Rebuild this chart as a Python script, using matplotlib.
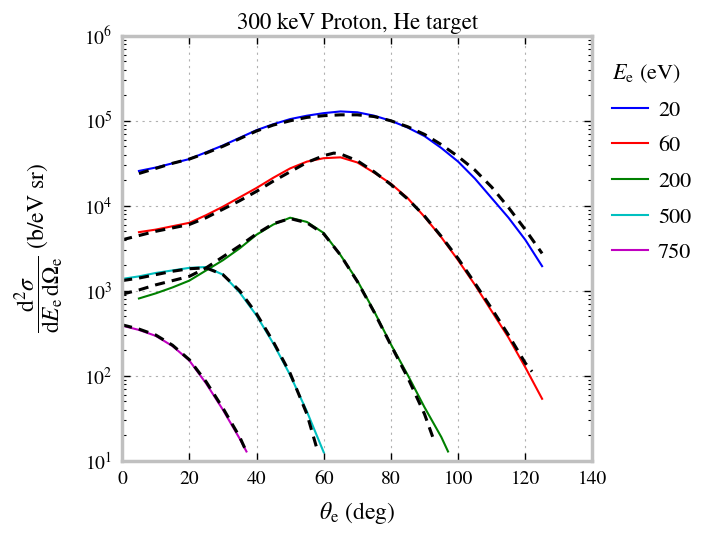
import matplotlib
matplotlib.use("Agg")
from matplotlib import pyplot as plt
from matplotlib.ticker import LogLocator, FixedLocator
import numpy as np

plt.rcParams['font.family'] = 'STIXGeneral'
plt.rcParams['mathtext.fontset'] = 'stix'
plt.rcParams['font.size'] = 14

energies = ['20', '60', '200', '500', '750']
colors = ['#0000ff', '#ff0000', '#008000', '#00c0c0', '#c000c0']

# solid curves (theta in deg, log10 of cross section)
th20 = [5, 10, 15, 20, 25, 30, 35, 40, 45, 50, 55, 60, 65, 70, 75, 80, 85, 90, 95, 100, 105, 110, 115, 120, 125]
lg20 = [4.41, 4.45, 4.50, 4.55, 4.63, 4.71, 4.80, 4.89, 4.96, 5.02, 5.06, 5.09, 5.11, 5.10, 5.06, 5.00, 4.92, 4.82, 4.68, 4.52, 4.32, 4.09, 3.86, 3.60, 3.29]
th60 = [5, 10, 15, 20, 25, 30, 35, 40, 45, 50, 55, 60, 65, 70, 75, 80, 85, 90, 95, 100, 105, 110, 115, 120, 125]
lg60 = [3.69, 3.72, 3.76, 3.80, 3.89, 3.99, 4.10, 4.21, 4.33, 4.44, 4.52, 4.56, 4.57, 4.51, 4.39, 4.26, 4.09, 3.87, 3.63, 3.36, 3.07, 2.76, 2.45, 2.10, 1.73]
th200 = [5, 10, 15, 20, 25, 30, 35, 40, 45, 50, 55, 60, 65, 70, 75, 80, 85, 90, 95, 97]
lg200 = [2.91, 2.97, 3.04, 3.12, 3.24, 3.36, 3.50, 3.66, 3.78, 3.86, 3.81, 3.68, 3.42, 3.12, 2.76, 2.37, 2.01, 1.63, 1.28, 1.11]
th500 = [0, 5, 10, 15, 20, 25, 30, 35, 40, 45, 50, 55, 60]
lg500 = [3.14, 3.17, 3.21, 3.24, 3.27, 3.28, 3.19, 2.98, 2.71, 2.38, 2.01, 1.58, 1.10]
th750 = [0, 5, 10, 15, 20, 25, 30, 35, 37]
lg750 = [2.59, 2.54, 2.47, 2.35, 2.18, 1.91, 1.60, 1.26, 1.11]

# dashed curves
dth20 = [5, 10, 15, 20, 25, 30, 35, 40, 45, 50, 55, 60, 65, 70, 75, 80, 85, 90, 95, 100, 105, 110, 115, 120, 125]
dlg20 = [4.38, 4.44, 4.50, 4.55, 4.62, 4.70, 4.79, 4.88, 4.95, 5.00, 5.04, 5.06, 5.07, 5.07, 5.05, 5.00, 4.93, 4.84, 4.72, 4.58, 4.42, 4.22, 3.98, 3.72, 3.44]
dth60 = [0, 5, 10, 15, 20, 25, 30, 35, 40, 45, 50, 55, 60, 63, 65, 70, 75, 80, 85, 90, 95, 100, 105, 110, 115, 120, 122]
dlg60 = [3.60, 3.65, 3.70, 3.74, 3.78, 3.86, 3.96, 4.06, 4.17, 4.29, 4.40, 4.51, 4.59, 4.62, 4.61, 4.53, 4.40, 4.25, 4.08, 3.88, 3.64, 3.38, 3.09, 2.79, 2.48, 2.15, 2.05]
dth200 = [0, 5, 10, 15, 20, 25, 30, 35, 40, 45, 50, 55, 60, 65, 70, 75, 80, 85, 90, 93]
dlg200 = [2.96, 3.01, 3.07, 3.12, 3.17, 3.27, 3.40, 3.53, 3.67, 3.79, 3.85, 3.80, 3.67, 3.42, 3.11, 2.75, 2.36, 1.98, 1.55, 1.22]
dth500 = [0, 5, 10, 15, 20, 25, 30, 35, 40, 45, 50, 55, 58]
dlg500 = [3.12, 3.15, 3.19, 3.23, 3.26, 3.27, 3.19, 3.00, 2.73, 2.40, 2.03, 1.55, 1.14]
dth750 = [0, 5, 10, 15, 20, 25, 30, 35, 36.5]
dlg750 = [2.60, 2.55, 2.48, 2.36, 2.19, 1.93, 1.62, 1.28, 1.15]

solid = [(th20, lg20), (th60, lg60), (th200, lg200), (th500, lg500), (th750, lg750)]
dashed = [(dth20, dlg20), (dth60, dlg60), (dth200, dlg200), (dth500, dlg500), (dth750, dlg750)]

fig = plt.figure(figsize=(7.02, 5.34), dpi=100)
ax = fig.add_axes([0.174, 0.137, 0.670, 0.796])

for (t, lg), c, e in zip(solid, colors, energies):
    ax.plot(t, 10 ** np.array(lg), color=c, lw=1.5, label=e)
for t, lg in dashed:
    ax.plot(t, 10 ** np.array(lg), color='black', lw=2.2, dashes=(3.3, 2.3))

ax.set_yscale('log')
ax.set_xlim(0, 140)
ax.set_ylim(10, 1e6)
ax.xaxis.set_major_locator(FixedLocator([0, 20, 40, 60, 80, 100, 120, 140]))
ax.yaxis.set_major_locator(LogLocator(base=10, numticks=10))
ax.yaxis.set_minor_locator(LogLocator(base=10, subs=np.arange(2, 10), numticks=10))

ax.grid(True, which='major', color='#b0b0b0', lw=0.8, linestyle=(0, (2, 4)))
for s in ax.spines.values():
    s.set_color('#c0c0c0')
    s.set_linewidth(2.5)
ax.tick_params(which='both', direction='in', top=True, right=True, color='black')
ax.tick_params(which='major', length=6, width=1, labelsize=14, pad=7)
ax.tick_params(which='minor', length=3, width=0.8)

ax.set_title('300 keV Proton, He target', fontsize=16.5, pad=5)
ax.set_xlabel(r'$\theta_\mathrm{e}$ (deg)', fontsize=17, labelpad=9)
ax.set_ylabel(r'$\dfrac{\mathrm{d}^2\sigma}{\mathrm{d}E_\mathrm{e}\,\mathrm{d}\Omega_\mathrm{e}}$ (b/eV sr)', fontsize=17)
ax.yaxis.set_label_coords(-0.12, 0.5)

leg = ax.legend(loc='upper left', bbox_to_anchor=(1.0, 0.985), frameon=False,
                title=r'$E_\mathrm{e}$ (eV)', fontsize=16, title_fontsize=16,
                handlelength=1.6, handletextpad=0.45, labelspacing=0.68)
leg._legend_box.align = 'left'

fig.savefig('out.png', dpi=100)
